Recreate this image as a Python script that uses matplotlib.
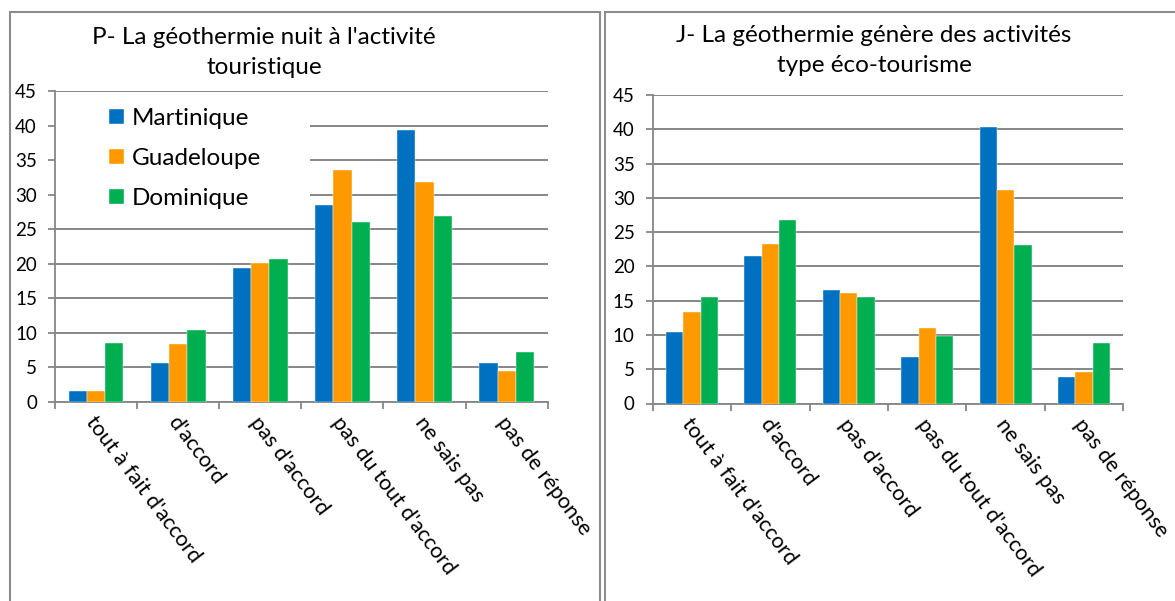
import numpy as np
import matplotlib.pyplot as plt
from matplotlib.patches import Rectangle
from matplotlib import transforms

plt.rcParams['font.family'] = ['Lato', 'DejaVu Sans']

categories = ["tout à fait d'accord", "d'accord", "pas d'accord",
              "pas du tout d'accord", "ne sais pas", "pas de réponse"]
series = ["Martinique", "Guadeloupe", "Dominique"]
colors = ["#0070C0", "#FF9900", "#00B050"]

# P- la géothermie nuit à l'activité touristique
p_martinique = [1.6, 5.6, 19.3, 28.5, 39.3, 5.6]
p_guadeloupe = [1.6, 8.4, 20.1, 33.5, 31.8, 4.4]
p_dominique = [8.5, 10.4, 20.7, 26.0, 26.9, 7.2]

# J- la géothermie génère des activités type éco-tourisme
j_martinique = [10.5, 21.5, 16.5, 6.8, 40.3, 3.9]
j_guadeloupe = [13.4, 23.3, 16.1, 11.0, 31.2, 4.6]
j_dominique = [15.5, 26.8, 15.5, 9.9, 23.1, 8.8]

title_p = ["P- La géothermie nuit à l'activité", "touristique"]
title_j = ["J- La géothermie génère des activités", "type éco-tourisme"]

W, H = 1175, 601
grey = "#868686"

fig = plt.figure(figsize=(W / 100, H / 100), dpi=100)


def px_axes(x0, x1, top, bottom):
    return fig.add_axes([x0 / W, 1 - bottom / H, (x1 - x0) / W, (bottom - top) / H])


def draw_chart(ax, data):
    x = np.arange(len(categories))
    bw = 0.222
    for i, (vals, c, name) in enumerate(zip(data, colors, series)):
        ax.bar(x + (i - 1) * bw, vals, bw, color=c, label=name, zorder=3,
               edgecolor="white", linewidth=0.3)
    ax.set_xlim(-0.5, len(categories) - 0.5)
    ax.set_ylim(0, 45)
    ax.set_yticks(np.arange(0, 46, 5))
    ax.yaxis.grid(True, color=grey, linewidth=1.4, zorder=0)
    ax.set_axisbelow(True)
    for s in ["top", "right"]:
        ax.spines[s].set_visible(False)
    for s in ["left", "bottom"]:
        ax.spines[s].set_color(grey)
        ax.spines[s].set_linewidth(1.3)
    ax.tick_params(axis="y", direction="out", length=5, width=1.3, color=grey,
                   labelsize=13.5, pad=8)
    ax.set_xticks(x)
    ax.set_xticks(np.arange(-0.5, len(categories), 1), minor=True)
    ax.tick_params(axis="x", which="major", length=0, pad=8, labelsize=15.5)
    ax.tick_params(axis="x", which="minor", direction="out", length=5, width=1.3, color=grey)
    offset = transforms.ScaledTranslation(2 / 100, 0, fig.dpi_scale_trans)
    ax.set_xticklabels(categories, rotation=-53, ha="left", va="top",
                       rotation_mode="anchor")
    for lab in ax.get_xticklabels():
        lab.set_transform(lab.get_transform() + offset)


ax1 = px_axes(55, 547.7, 91, 401.7)
draw_chart(ax1, [p_martinique, p_guadeloupe, p_dominique])
ax2 = px_axes(652.7, 1123.3, 95, 403.5)
draw_chart(ax2, [j_martinique, j_guadeloupe, j_dominique])

# white box behind the legend hides the gridlines
ax1.add_patch(Rectangle((0, 0.585), 0.518, 0.40, transform=ax1.transAxes,
                        facecolor="white", edgecolor="none", zorder=1))
ax1.legend(loc="upper left", bbox_to_anchor=(0.11, 0.945), frameon=False,
           fontsize=17.5, handlelength=0.62, handleheight=0.62,
           handletextpad=0.3, labelspacing=0.78, borderpad=0, borderaxespad=0)

# titles
fig.text(264 / W, 1 - 37 / H, title_p[0], ha="center", va="center", fontsize=17.5)
fig.text(264 / W, 1 - 67 / H, title_p[1], ha="center", va="center", fontsize=17.5)
fig.text(874 / W, 1 - 35 / H, title_j[0], ha="center", va="center", fontsize=17.5)
fig.text(874 / W, 1 - 66 / H, title_j[1], ha="center", va="center", fontsize=17.5)

# panel borders
fig.add_artist(Rectangle((10 / W, -0.1), 590 / W, 1.1 - 12 / H, transform=fig.transFigure,
                         fill=False, edgecolor="#8c8c8c", linewidth=1.5))
fig.add_artist(Rectangle((605 / W, -0.1), 0.6, 1.1 - 12 / H, transform=fig.transFigure,
                         fill=False, edgecolor="#8c8c8c", linewidth=1.5))

fig.savefig("out.png", dpi=100)
